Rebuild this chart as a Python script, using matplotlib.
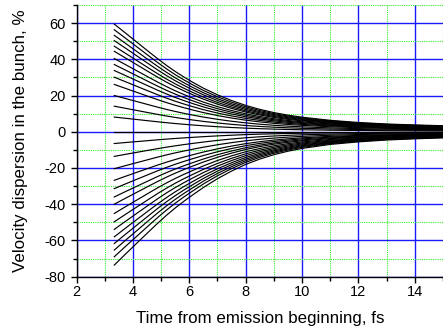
import numpy as np
import matplotlib
matplotlib.use("Agg")
import matplotlib.pyplot as plt
from matplotlib.ticker import MultipleLocator

# Time samples (fs) along every curve
t_fs = [3.34, 3.7, 4.0, 4.3, 4.6, 4.9, 5.2, 5.5, 5.8, 6.1, 6.5, 7.0, 7.5, 8.0, 8.5, 9.0, 9.5, 10.0, 11.0, 12.0, 13.0, 14.0, 15.0]
# Decay of the dispersion relative to its start value
decay_pos = [1.0, 0.925, 0.862, 0.799, 0.736, 0.674, 0.615, 0.56, 0.51, 0.463, 0.405, 0.343, 0.29, 0.245,
             0.208, 0.178, 0.154, 0.135, 0.106, 0.086, 0.072, 0.063, 0.056]
decay_neg = [1.0, 0.925, 0.864, 0.803, 0.742, 0.682, 0.625, 0.572, 0.523, 0.477, 0.418, 0.352, 0.295, 0.245,
             0.205, 0.172, 0.146, 0.125, 0.095, 0.076, 0.062, 0.053, 0.046]
# Start values (%) of each curve
start_pos = [59.4, 56.3, 53.2, 50.3, 47.2, 44.4, 40.4, 37.1, 33.8, 30.1, 26.1, 20.0, 14.1, 8.1, 0.0]
start_neg = [-6.5, -13.6, -20.4, -26.8, -31.4, -36.0, -40.0, -45.1, -49.7, -53.9, -58.0, -61.7, -65.3, -69.0, -73.6]

xticks = [2, 4, 6, 8, 10, 12, 14]
yticks = [-80, -60, -40, -20, 0, 20, 40, 60]

plt.rcParams['font.family'] = ['Liberation Sans', 'DejaVu Sans']
plt.rcParams['axes.unicode_minus'] = False
fig = plt.figure(figsize=(4.43, 3.32), dpi=100)
ax = fig.add_axes([0.1727, 0.1666, 0.8273, 0.8186])

t = np.array(t_fs)
for v0 in start_pos:
    ax.plot(t, v0 * np.array(decay_pos), color='black', lw=0.85, zorder=3)
for v0 in start_neg:
    ax.plot(t, v0 * np.array(decay_neg), color='black', lw=0.85, zorder=3)

ax.set_xlim(2, 15)
ax.set_ylim(-80, 70)
ax.set_xticks(xticks)
ax.set_yticks(yticks)
ax.xaxis.set_minor_locator(MultipleLocator(1))
ax.yaxis.set_minor_locator(MultipleLocator(10))
ax.grid(which='major', color='#1a1aff', lw=1.0, ls='-', zorder=1)
ax.grid(which='minor', color='#33ee33', lw=0.8, ls=(0, (1, 1)), zorder=1)
ax.set_axisbelow(True)
for s in ['top', 'right']:
    ax.spines[s].set_visible(False)
for s in ['left', 'bottom']:
    ax.spines[s].set_linewidth(1.0)
ax.tick_params(which='major', direction='out', length=4.3, width=1, labelsize=10.5)
ax.tick_params(which='minor', direction='out', length=3, width=1)
ax.tick_params(axis='x', which='major', pad=1.5)
ax.tick_params(axis='y', which='major', pad=3.5)
ax.set_xlabel('Time from emission beginning, fs', fontsize=12.2, labelpad=9)
ax.set_ylabel('Velocity dispersion in the bunch, %', fontsize=12.2, labelpad=12)

fig.savefig('out.png', dpi=100)
